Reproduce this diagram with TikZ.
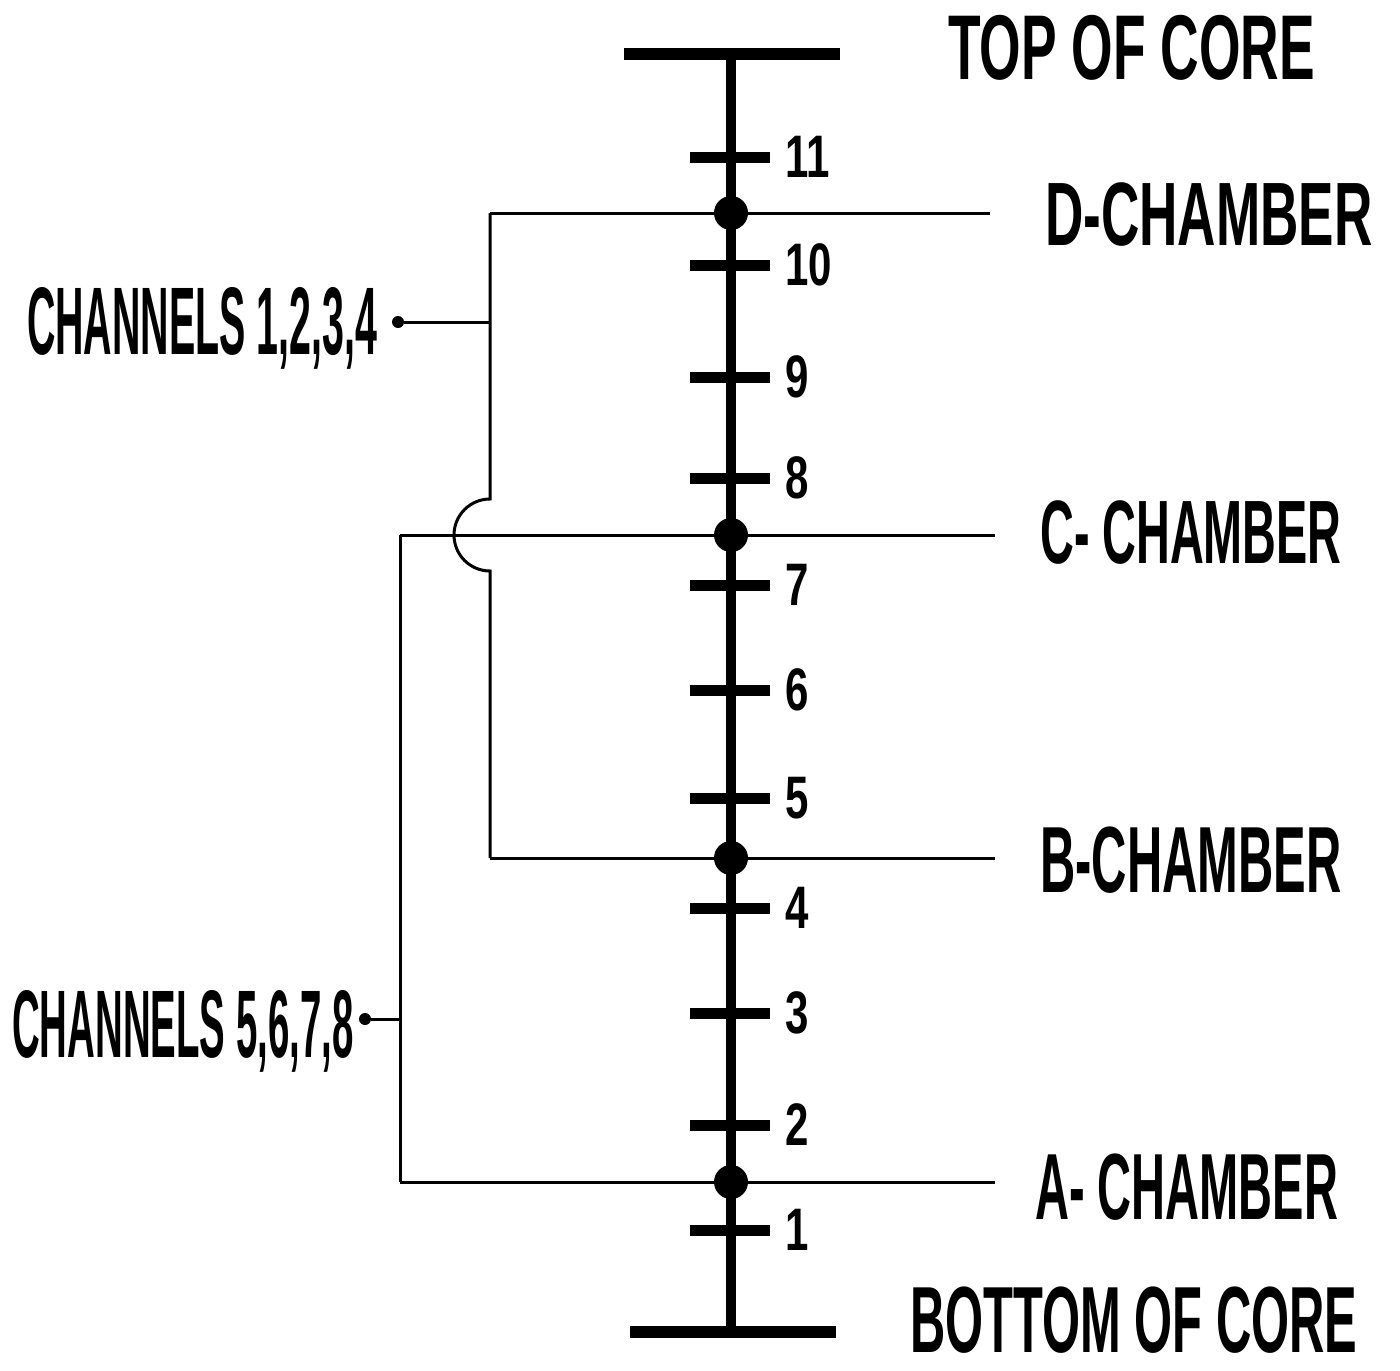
\documentclass[tikz,border=0pt]{standalone}
\usepackage{fontspec}
\setmainfont{Liberation Sans}

\begin{document}
\begin{tikzpicture}[
  x=0.5pt, y=-0.5pt,
  hand/.style={font=\bfseries\fontsize{#1}{#1}\selectfont, inner sep=0pt,
    anchor=base west},
  num/.style={font=\bfseries\fontsize{30}{30}\selectfont, inner sep=0pt,
    anchor=west, xscale=0.7},
  wire/.style={line width=1.5pt},
  core/.style={line width=5pt},
  tickmark/.style={line width=5.5pt},
  bar/.style={line width=6pt},
  junction/.style={circle, fill, inner sep=0pt, minimum size=17pt},
  tap/.style={circle, fill, inner sep=0pt, minimum size=6pt}
]
\useasboundingbox (0,0) rectangle (1400,1370);

% core axis
\coordinate (topL) at (624,54);
\coordinate (topR) at (840,54);
\coordinate (botL) at (630,1332);
\coordinate (botR) at (836,1332);
\coordinate (top) at (731,54);
\coordinate (bot) at (731,1332);

% chamber buses
\coordinate (dL) at (490,213);
\coordinate (dR) at (990,213);
\coordinate (cL) at (400,535);
\coordinate (cR) at (995,535);
\coordinate (bL) at (490,858);
\coordinate (bR) at (995,858);
\coordinate (aL) at (400,1182);
\coordinate (aR) at (995,1182);
\coordinate (hopin) at (490,499);

\draw[wire] (dL) -- (dR);
\draw[wire] (cL) -- (cR);
\draw[wire] (bL) -- (bR);
\draw[wire] (aL) -- (aR);
\draw[wire] (cL) -- (aL);
\draw[wire] (dL) -- (hopin) arc[start angle=90, end angle=270, radius=18pt] -- (bL);

% channel taps
\node[hand=48, xscale=0.41] (ch14) at (27,354) {CHANNELS 1,2,3,4};
\node[hand=48, xscale=0.40] (ch58) at (12,1057) {CHANNELS 5,6,7,8};
\node[tap] (tap14) at (398,322) {};
\node[tap] (tap58) at (365,1019) {};
\coordinate (j14) at (490,322);
\coordinate (j58) at (400,1019);
\draw[wire] (tap14) -- (j14);
\draw[wire] (tap58) -- (j58);

% axis, ends and ticks
\draw[core] (top) -- (bot);
\draw[bar] (topL) -- (topR);
\draw[bar] (botL) -- (botR);
\foreach \y/\n in {157/11, 265/10, 377/9, 478/8, 585/7, 690/6,
                   798/5, 908/4, 1013/3, 1125/2, 1230/1}{
  \draw[tickmark] (690,\y) -- (770,\y);
  \node[num] (n\n) at (785,\y) {\n};
}

\node[junction] (jD) at (731,213) {};
\node[junction] (jC) at (731,535) {};
\node[junction] (jB) at (731,858) {};
\node[junction] (jA) at (731,1182) {};

% labels
\node[hand=46, xscale=0.58] (toplab) at (948,80) {TOP OF CORE};
\node[hand=45, xscale=0.59] (dlab) at (1045,245) {D-CHAMBER};
\node[hand=45, xscale=0.52] (clab) at (1040,563) {C- CHAMBER};
\node[hand=47, xscale=0.52] (blab) at (1040,892) {B-CHAMBER};
\node[hand=47, xscale=0.50] (alab) at (1035,1219) {A- CHAMBER};
\node[hand=47, xscale=0.52] (botlab) at (910,1352) {BOTTOM OF CORE};

\end{tikzpicture}
\end{document}
